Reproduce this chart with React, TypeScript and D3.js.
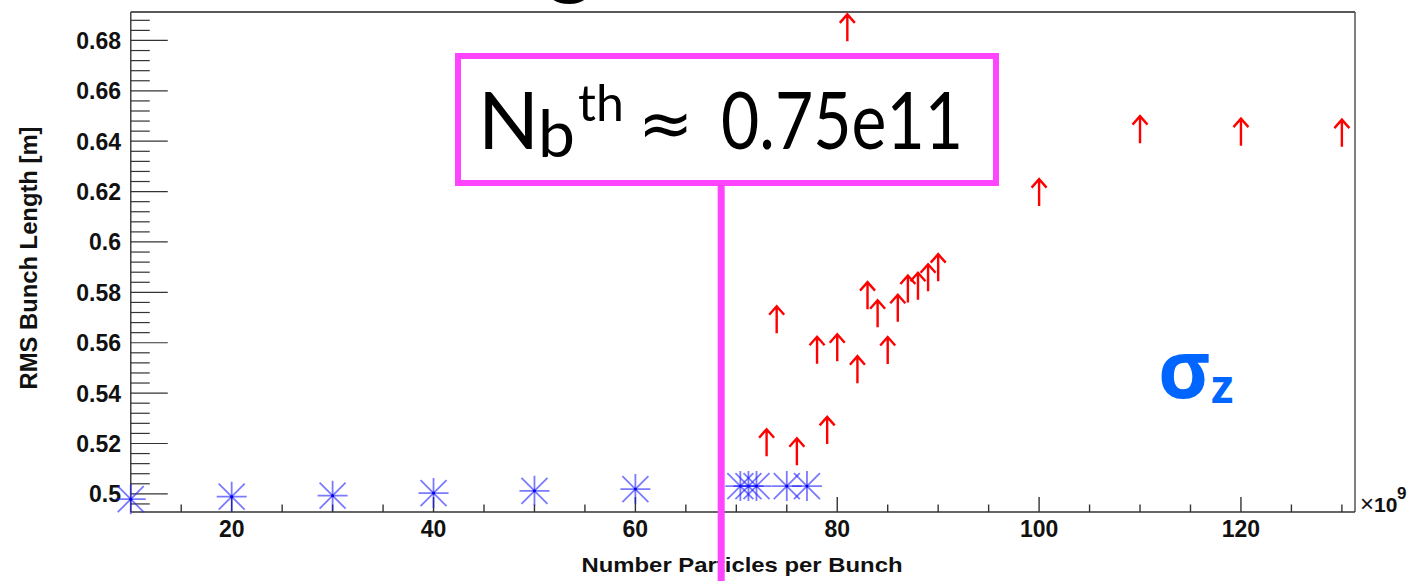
import React from 'react';
import * as d3 from 'd3';

const W = 1412;
const H = 581;

// Blue asterisks: bunch length below threshold (x in 1e9 particles)
const starX = [10, 20, 30, 40, 50, 60, 70.4, 71.2, 72, 75, 77];
const starY = [0.4979, 0.4989, 0.4993, 0.5003, 0.5012, 0.5019, 0.5031, 0.5031, 0.5031, 0.5031, 0.5031];

// Red arrows: bunch length above threshold
const arrowX = [73, 74, 76, 78, 79, 80, 81, 82, 83, 84, 85, 86, 87, 88, 89, 90, 100, 110, 120, 130];
const arrowY = [0.5203, 0.5691, 0.5167, 0.557, 0.5252, 0.558, 0.685, 0.5493, 0.5787, 0.5715, 0.5569, 0.5737, 0.5813, 0.5824, 0.5858, 0.5898, 0.6196, 0.6446, 0.6436, 0.6432];

const yMajor = [0.5, 0.52, 0.54, 0.56, 0.58, 0.6, 0.62, 0.64, 0.66, 0.68];
const yLabels = ['0.5', '0.52', '0.54', '0.56', '0.58', '0.6', '0.62', '0.64', '0.66', '0.68'];
const xMajor = [20, 40, 60, 80, 100, 120];
const xLabels = ['20', '40', '60', '80', '100', '120'];

const xTitle = 'Number Particles per Bunch';
const yTitle = 'RMS Bunch Length [m]';
const thresholdX = 68.5;
const thresholdValue = '0.75e11';

const x = d3.scaleLinear().domain([10, 131.3]).range([130.75, 1355]);
const y = d3.scaleLinear().domain([0.4928, 0.6913]).range([512, 12]);

const yMinor: number[] = [];
for (let i = 120; i <= 175; i++) {
  const v = i * 0.004;
  if (v >= y.domain()[0] && v <= y.domain()[1] && i % 5 !== 0) yMinor.push(v);
}
const xMinor: number[] = [];
for (let v = 15; v <= 130; v += 5) {
  if (!xMajor.includes(v)) xMinor.push(v);
}

const axisFont = "'Liberation Sans', Arial, Helvetica, sans-serif";
const PINK = '#ff44ff';

export default function App() {
  const [x0, x1] = x.range();
  const [yb, yt] = y.range();
  const starPath = 'M-15,0H15M0,-15V15M-13,-13L13,13M-13,13L13,-13';
  const arrowPath = 'M0,13.5V-13.5M-7.5,-5L0,-13.5L7.5,-5';
  const lx = x(thresholdX);
  return (
    <svg width={W} height={H} style={{ position: 'absolute', left: 0, top: 0, background: '#fff' }}>
      <rect x={0} y={0} width={W} height={H} fill="#fff" />
      {/* cut-off slide title fragment */}
      <text x={570} y={-13} fontFamily="Lato, 'Open Sans', sans-serif" fontSize={92} textAnchor="middle" fill="#000">g</text>

      {/* frame */}
      <line x1={x0} x2={x1} y1={yt} y2={yt} stroke="#222" strokeWidth={1.6} />
      <line x1={x1} x2={x1} y1={yt} y2={yb} stroke="#555" strokeWidth={1.5} />
      <line x1={x0} x2={x0} y1={yt} y2={yb} stroke="#444" strokeWidth={1.5} />
      <line x1={x0} x2={x1} y1={yb} y2={yb} stroke="#333" strokeWidth={1.5} />

      {/* y ticks */}
      {yMajor.map((v) => (
        <line key={'ym' + v} x1={x0} x2={x0 + 37} y1={y(v)} y2={y(v)} stroke="#333" strokeWidth={1.2} />
      ))}
      {yMinor.map((v) => (
        <line key={'yn' + v} x1={x0} x2={x0 + 19} y1={y(v)} y2={y(v)} stroke="#333" strokeWidth={1.2} />
      ))}
      {yMajor.map((v, i) => (
        <text key={'yl' + v} x={121} y={y(v) + 8.5} textAnchor="end" fontFamily={axisFont} fontWeight="bold" fontSize={23} fill="#111">
          {yLabels[i]}
        </text>
      ))}

      {/* x ticks */}
      {xMajor.map((v) => (
        <line key={'xm' + v} x1={x(v)} x2={x(v)} y1={yb} y2={yb - 15} stroke="#333" strokeWidth={1.4} />
      ))}
      {xMinor.map((v) => (
        <line key={'xn' + v} x1={x(v)} x2={x(v)} y1={yb} y2={yb - 7.5} stroke="#333" strokeWidth={1.4} />
      ))}
      {xMajor.map((v, i) => (
        <text key={'xl' + v} x={x(v)} y={537} textAnchor="middle" fontFamily={axisFont} fontWeight="bold" fontSize={23} fill="#111">
          {xLabels[i]}
        </text>
      ))}
      <text x={1360} y={512} fontFamily={axisFont} fill="#111">
        <tspan fontSize={24}>×</tspan>
        <tspan fontWeight="bold" fontSize={21}>10</tspan>
      </text>
      <text x={1397} y={499} fontFamily={axisFont} fontWeight="bold" fontSize={17} fill="#111">9</text>

      {/* axis titles */}
      <text x={742} y={572} textAnchor="middle" fontFamily={axisFont} fontWeight="bold" fontSize={21} fill="#111" textLength={321} lengthAdjust="spacingAndGlyphs">
        {xTitle}
      </text>
      <text transform="translate(37,258) rotate(-90)" textAnchor="middle" fontFamily={axisFont} fontWeight="bold" fontSize={24} fill="#111" textLength={263} lengthAdjust="spacingAndGlyphs">
        {yTitle}
      </text>

      {/* stars */}
      {starX.map((v, i) => (
        <g key={'s' + i} transform={`translate(${x(v)},${y(starY[i])})`}>
          <path d={starPath} stroke="#2222ff" strokeOpacity={0.6} strokeWidth={1.8} fill="none" />
          <circle r={1.6} fill="#0000ee" />
        </g>
      ))}

      {/* arrows */}
      {arrowX.map((v, i) => (
        <path key={'a' + i} transform={`translate(${x(v)},${y(arrowY[i])})`} d={arrowPath} stroke="#ff0000" strokeWidth={2.4} fill="none" />
      ))}

      {/* sigma_z label */}
      <text x={1158} y={398} fontFamily="'Open Sans', 'DejaVu Sans', sans-serif" fontWeight="bold" fontSize={80} fill="#0066ff">σ</text>
      <text x={1211} y={403} fontFamily="'Open Sans', 'DejaVu Sans', sans-serif" fontWeight="bold" fontSize={46} fill="#0066ff">z</text>

      {/* threshold annotation */}
      <line x1={lx} x2={lx} y1={186} y2={H} stroke={PINK} strokeWidth={7} />
      <rect x={458} y={56} width={538} height={127} fill="#fff" stroke={PINK} strokeWidth={6} />
      <g fontFamily="Lato, 'Open Sans', sans-serif" fill="#000">
        <text x={478} y={149} fontSize={80}>N</text>
        <text x={538} y={157} fontSize={66}>b</text>
        <text x={578} y={121} fontSize={50}>th</text>
        <text x={638} y={146} fontFamily="'DejaVu Sans', sans-serif" fontSize={66}>≈</text>
        <text x={721} y={149} fontSize={80} textLength={242} lengthAdjust="spacingAndGlyphs">{thresholdValue}</text>
      </g>
    </svg>
  );
}
